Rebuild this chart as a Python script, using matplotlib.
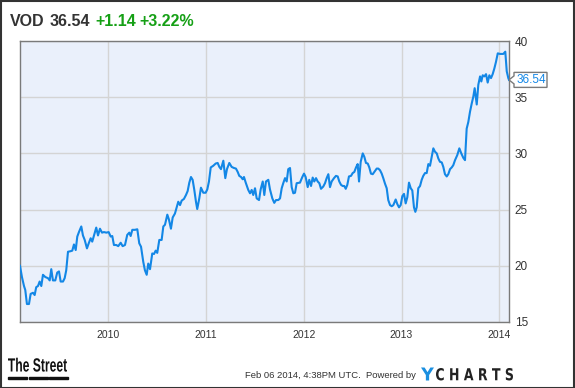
import matplotlib
matplotlib.use("Agg")
import matplotlib.pyplot as plt
from matplotlib.patches import Rectangle, Polygon, PathPatch
from matplotlib.textpath import TextPath
from matplotlib.font_manager import FontProperties
from matplotlib.transforms import Affine2D, IdentityTransform

plt.rcParams['font.family'] = ['Liberation Sans', 'DejaVu Sans']

ticker = "VOD"
last_price = 36.54
change = "+1.14"
change_pct = "+3.22%"

years = [
    2009.097, 2009.117, 2009.138, 2009.151, 2009.168, 2009.189, 2009.206, 2009.230, 2009.247, 2009.263,
    2009.281, 2009.298, 2009.315, 2009.332, 2009.356, 2009.383, 2009.401, 2009.417, 2009.434, 2009.458,
    2009.478, 2009.496, 2009.513, 2009.537, 2009.554, 2009.570, 2009.588, 2009.615, 2009.632, 2009.649,
    2009.667, 2009.683, 2009.700, 2009.724, 2009.741, 2009.759, 2009.782, 2009.800, 2009.820, 2009.836,
    2009.861, 2009.877, 2009.895, 2009.915, 2009.936, 2009.956, 2009.980, 2010.004, 2010.025, 2010.041,
    2010.058, 2010.082, 2010.102, 2010.127, 2010.147, 2010.171, 2010.194, 2010.215, 2010.229, 2010.246,
    2010.273, 2010.297, 2010.317, 2010.335, 2010.358, 2010.375, 2010.393, 2010.409, 2010.427, 2010.450,
    2010.468, 2010.485, 2010.501, 2010.522, 2010.546, 2010.563, 2010.580, 2010.604, 2010.621, 2010.641,
    2010.659, 2010.682, 2010.700, 2010.716, 2010.734, 2010.751, 2010.774, 2010.795, 2010.812, 2010.829,
    2010.846, 2010.863, 2010.880, 2010.897, 2010.910, 2010.931, 2010.948, 2010.972, 2010.996, 2011.013,
    2011.030, 2011.048, 2011.074, 2011.099, 2011.119, 2011.136, 2011.153, 2011.177, 2011.197, 2011.214,
    2011.238, 2011.262, 2011.286, 2011.306, 2011.324, 2011.340, 2011.358, 2011.375, 2011.388, 2011.406,
    2011.432, 2011.450, 2011.467, 2011.483, 2011.501, 2011.518, 2011.542, 2011.559, 2011.580, 2011.596,
    2011.613, 2011.637, 2011.654, 2011.678, 2011.698, 2011.716, 2011.739, 2011.757, 2011.774, 2011.790,
    2011.808, 2011.825, 2011.841, 2011.859, 2011.876, 2011.893, 2011.910, 2011.927, 2011.961, 2011.985,
    2012.002, 2012.019, 2012.040, 2012.056, 2012.074, 2012.091, 2012.107, 2012.125, 2012.142, 2012.159,
    2012.176, 2012.199, 2012.217, 2012.234, 2012.251, 2012.268, 2012.285, 2012.309, 2012.329, 2012.347,
    2012.363, 2012.381, 2012.398, 2012.414, 2012.429, 2012.445, 2012.462, 2012.483, 2012.500, 2012.517,
    2012.534, 2012.551, 2012.565, 2012.582, 2012.603, 2012.619, 2012.636, 2012.654, 2012.670, 2012.687,
    2012.705, 2012.721, 2012.746, 2012.762, 2012.780, 2012.797, 2012.813, 2012.831, 2012.848, 2012.864,
    2012.882, 2012.899, 2012.916, 2012.940, 2012.956, 2012.974, 2012.991, 2013.008, 2013.025, 2013.042,
    2013.059, 2013.076, 2013.094, 2013.110, 2013.127, 2013.141, 2013.155, 2013.171, 2013.189, 2013.206,
    2013.222, 2013.240, 2013.257, 2013.274, 2013.291, 2013.308, 2013.325, 2013.342, 2013.360, 2013.376,
    2013.393, 2013.411, 2013.427, 2013.444, 2013.462, 2013.478, 2013.496, 2013.513, 2013.529, 2013.547,
    2013.570, 2013.591, 2013.611, 2013.632, 2013.649, 2013.666, 2013.683, 2013.700, 2013.718, 2013.734,
    2013.748, 2013.769, 2013.785, 2013.803, 2013.816, 2013.830, 2013.847, 2013.864, 2013.881, 2013.898,
    2013.915, 2013.932, 2013.949, 2013.966, 2013.984, 2014.007, 2014.041, 2014.061, 2014.076, 2014.092,
    2014.099,
]

prices = [
    20.0, 19.0, 18.2, 17.85, 16.6, 16.6, 17.5, 17.6, 17.4, 18.1,
    18.2, 18.6, 18.2, 19.2, 19.0, 18.9, 18.7, 19.7, 18.7, 18.7,
    19.4, 19.5, 18.6, 18.6, 18.9, 19.6, 21.25, 21.3, 21.35, 21.9,
    21.4, 22.6, 23.0, 23.5, 22.7, 22.3, 21.55, 22.0, 22.45, 22.15,
    22.9, 23.4, 22.7, 23.3, 22.95, 23.0, 22.95, 23.0, 22.6, 22.65,
    21.85, 21.85, 21.75, 22.05, 21.75, 21.85, 22.75, 22.95, 22.65, 23.2,
    23.2, 23.25, 22.0, 21.7, 20.35, 19.6, 19.2, 20.2, 19.7, 21.1,
    21.05, 21.35, 21.15, 22.3, 22.3, 23.5, 23.65, 24.55, 24.1, 23.3,
    24.3, 24.65, 25.2, 25.7, 25.4, 25.8, 25.95, 26.3, 26.65, 27.4,
    27.9, 27.65, 26.75, 25.7, 25.05, 26.0, 26.95, 26.5, 26.5, 26.8,
    27.5, 28.75, 28.9, 29.1, 29.15, 28.8, 28.6, 29.35, 27.8, 28.6,
    29.15, 28.8, 28.7, 28.65, 28.35, 28.0, 27.9, 27.7, 27.9, 27.4,
    26.75, 26.45, 26.75, 26.3, 26.9, 26.0, 25.85, 26.8, 27.5, 26.3,
    27.5, 27.65, 26.8, 26.0, 25.6, 25.85, 25.85, 26.0, 26.9, 27.35,
    27.8, 27.5, 28.6, 28.7, 27.0, 26.45, 26.5, 27.35, 27.4, 27.9,
    28.2, 27.9, 27.0, 27.65, 27.1, 27.85, 27.5, 27.8, 27.5, 27.35,
    26.85, 27.05, 27.35, 27.8, 28.15, 27.0, 27.5, 27.8, 28.0, 27.95,
    27.5, 27.2, 27.1, 27.1, 26.85, 27.2, 27.95, 28.0, 28.25, 28.35,
    28.75, 29.05, 27.5, 29.25, 30.0, 29.7, 29.15, 29.1, 28.75, 28.2,
    28.15, 28.35, 28.65, 28.65, 28.5, 28.2, 27.8, 27.3, 26.9, 25.85,
    25.4, 25.3, 25.4, 25.9, 25.5, 25.2, 25.4, 26.2, 26.4, 25.55,
    26.1, 27.4, 26.9, 26.7, 25.2, 24.8, 25.2, 26.9, 27.1, 27.65,
    28.0, 28.25, 28.25, 29.05, 28.9, 29.7, 30.45, 30.15, 30.0, 29.55,
    29.25, 29.2, 28.8, 28.15, 27.95, 28.15, 28.6, 28.75, 28.95, 29.4,
    29.85, 30.45, 30.0, 29.6, 29.4, 32.2, 32.8, 33.7, 34.45, 35.05,
    35.8, 34.35, 36.1, 36.85, 36.4, 36.95, 36.85, 37.05, 36.3, 36.95,
    36.7, 37.05, 37.55, 38.15, 38.9, 38.85, 38.85, 39.05, 37.3, 36.7,
    36.54,
]

x_ticks = [2010, 2011, 2012, 2013, 2014]
x_labels = ["2010", "2011", "2012", "2013", "2014"]
y_ticks = [15, 20, 25, 30, 35, 40]
y_labels = ["15", "20", "25", "30", "35", "40"]
footer_text = "Feb 06 2014, 4:38PM UTC.  Powered by"

BLUE = "#1387e6"
W, H = 575, 388
fig = plt.figure(figsize=(W / 100, H / 100), dpi=100)
fig.patch.set_facecolor("white")
ident = IdentityTransform()

ax_l, ax_r, ax_t, ax_b = 19.5, 509, 41, 322
ax = fig.add_axes([ax_l / W, 1 - ax_b / H, (ax_r - ax_l) / W, (ax_b - ax_t) / H])
ax.set_facecolor("#eaf0fb")
ax.plot(years, prices, color=BLUE, lw=1.5, solid_joinstyle="round", zorder=3)
ax.set_xlim(2009.092, 2014.099)
ax.set_ylim(15, 40)
ax.set_xticks(x_ticks)
ax.set_yticks(y_ticks)
ax.set_xticklabels(x_labels)
ax.set_yticklabels(y_labels)
ax.grid(True, color="#d4d4d4", lw=1)
ax.set_axisbelow(True)
ax.yaxis.tick_right()
ax.tick_params(axis="both", length=0, colors="#333333")
ax.tick_params(axis="x", labelsize=7.5, pad=6)
ax.tick_params(axis="y", labelsize=8.5, pad=4)
for s in ax.spines.values():
    s.set_color("#7a7a7a")
    s.set_linewidth(1)

# last price flag (box with pointer), placed from the data value
px, py = ax.transData.transform((2014.099, last_price))
bw, bh, tip = 33, 15, 5
flag = Polygon([(px, py), (px + tip, py + 4), (px + tip, py + bh / 2), (px + tip + bw, py + bh / 2),
                (px + tip + bw, py - bh / 2), (px + tip, py - bh / 2), (px + tip, py - 4)],
               closed=True, fc="white", ec="#7a7a7a", lw=1, transform=ident, zorder=10)
fig.patches.append(flag)
fig.text((px + tip + bw / 2 + 0.5) / W, py / H, f"{last_price:.2f}", fontsize=8.5, color=BLUE,
         ha="center", va="center", zorder=11)

# header
hy = 1 - 21 / H
fig.text(10 / W, hy, ticker, fontsize=11.5, fontweight="bold", color="#333333", va="center", ha="left")
fig.text(50 / W, hy, f"{last_price:.2f}", fontsize=11.5, fontweight="bold", color="#333333", va="center", ha="left")
fig.text(95 / W, hy, change, fontsize=11.5, fontweight="bold", color="#16a016", va="center", ha="left")
fig.text(139 / W, hy, change_pct, fontsize=11.5, fontweight="bold", color="#16a016", va="center", ha="left")

# footer: condensed "The Street" logo
fp = FontProperties(family="Liberation Sans", weight="bold")
tp = TextPath((0, 0), "The Street", size=10, prop=fp)
bb = tp.get_extents()
sx = 59 / bb.width
sy = 14 / bb.height
tr = Affine2D().translate(-bb.x0, -bb.y0).scale(sx, sy).translate(8, H - 371.7)
fig.patches.append(PathPatch(tp, transform=tr + ident, fc="#111111", ec="none"))
for x0 in (8, 29, 49):
    fig.patches.append(Rectangle((x0, H - 379), 18.5, 2, transform=ident, color="#111111"))

fig.text(245 / W, 1 - 376 / H, footer_text, fontsize=6.8, color="#333333", va="center", ha="left")

# YCHARTS logo
fpy = FontProperties(family="DejaVu Sans", weight="bold")
yp = TextPath((0, 0), "Y", size=10, prop=fpy)
yb = yp.get_extents()
fig.patches.append(PathPatch(yp, transform=Affine2D().translate(-yb.x0, -yb.y0)
                             .scale(13 / yb.width, 13 / yb.height).translate(421, H - 380.5) + ident,
                             fc="#1a8fe0", ec="none"))
cp = TextPath((0, 0), "C H A R T S", size=10, prop=fpy)
cb = cp.get_extents()
fig.patches.append(PathPatch(cp, transform=Affine2D().translate(-cb.x0, -cb.y0)
                             .scale(77 / cb.width, 12.5 / cb.height).translate(436, H - 380.5) + ident,
                             fc="#222222", ec="none"))

# outer border
fig.patches.append(Rectangle((0.5, 0.5), W - 1.5, H - 1.5, transform=ident,
                             fill=False, ec="#333333", lw=1.5))

fig.savefig("out.png", dpi=100)
